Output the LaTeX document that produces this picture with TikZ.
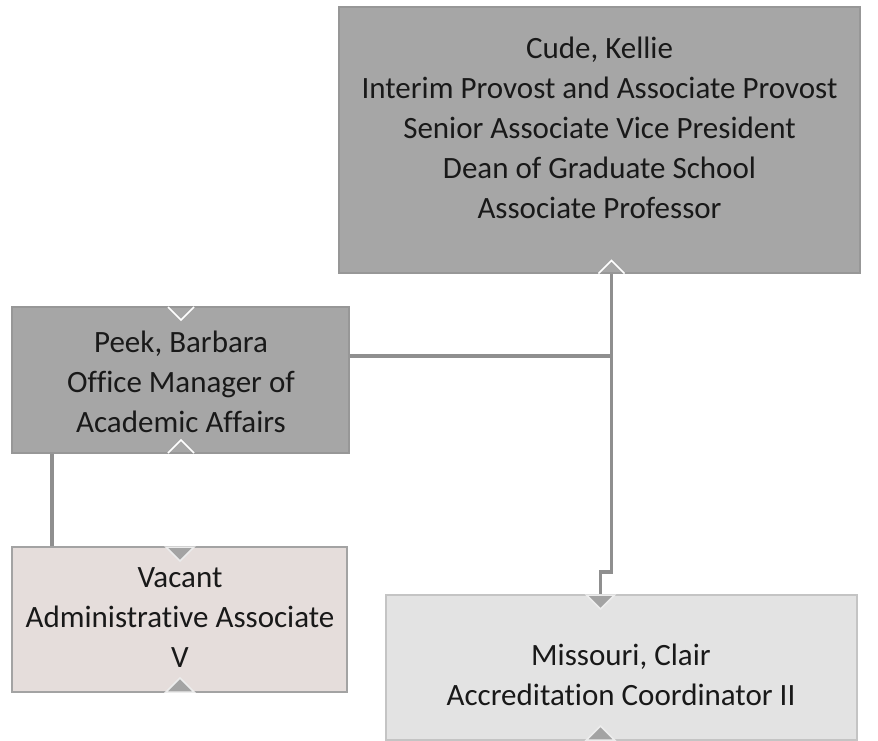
\documentclass[tikz,border=0pt]{standalone}
\usepackage{fontspec}
\setmainfont{Carlito}[Ligatures=NoCommon]
\definecolor{boxdark}{HTML}{A6A6A6}
\definecolor{edgedark}{HTML}{979797}
\definecolor{boxpink}{HTML}{E5DDDB}
\definecolor{boxlight}{HTML}{E3E3E3}
\definecolor{edgelight}{HTML}{C4C4C4}
\definecolor{linkgray}{HTML}{8F8F8F}
\definecolor{tabgray}{HTML}{A3A3A3}
\tikzset{
  box/.style={draw=edgedark, line width=1.2pt, inner sep=0pt},
  txt/.style={align=center, text=black!90, font=\fontsize{31}{40}\selectfont},
  link/.style={draw=linkgray, line width=3.5pt},
  openup/.pic={\draw[white, line width=1.6pt] (-13,0)--(0,-13)--(13,0);},
  opendown/.pic={\draw[white, line width=1.6pt] (-13,0)--(0,13)--(13,0);},
  tabup/.pic={\draw[white!85!gray, line width=1.5pt, fill=tabgray] (-14,0)--(0,-14)--(14,0)--cycle;},
  tabdown/.pic={\draw[white!85!gray, line width=1.5pt, fill=tabgray] (-14,0)--(0,14)--(14,0)--cycle;}
}
\begin{document}
\begin{tikzpicture}[x=1pt, y=-1pt]
\useasboundingbox (0,0) rectangle (878,741);
\node[box, fill=boxdark, minimum width=521pt, minimum height=266pt] (cude) at (599.5,140) {};
\node[box, fill=boxdark, minimum width=337pt, minimum height=146pt] (peek) at (180.5,380) {};
\node[box, fill=boxpink, draw=tabgray, minimum width=335pt, minimum height=145pt] (vacant) at (179.5,619.5) {};
\node[box, fill=boxlight, draw=edgelight, minimum width=471pt, minimum height=145pt] (missouri) at (621.5,667.5) {};
\node[txt] (cudetxt) at (599.5,128) {Cude, Kellie\\Interim Provost and Associate Provost\\Senior Associate Vice President\\Dean of Graduate School\\Associate Professor};
\node[txt] (peektxt) at (181,382) {Peek, Barbara\\Office Manager of\\Academic Affairs};
\node[txt] (vacanttxt) at (180,618) {Vacant\\Administrative Associate\\V};
\node[txt] (missouritxt) at (621,675) {Missouri, Clair\\Accreditation Coordinator II};
% connectors
\coordinate (trunk) at (611.5,0);
\coordinate (jog) at (600.5,572);
\coordinate (peekdrop) at (52,0);
\draw[link] (trunk |- cude.south) -- (trunk |- jog) -- (jog) -- (jog |- missouri.north);
\draw[link] (peek.east |- 0,356) -- (trunk |- 0,356);
\draw[link] (peekdrop |- peek.south) -- (peekdrop |- vacant.north);
% expand tabs
\pic at (trunk |- cude.south) {openup};
\pic at (181,307) {opendown};
\pic at (181,453) {openup};
\pic at (180,547) {tabdown};
\pic at (180,692) {tabup};
\pic at (600.5,595) {tabdown};
\pic at (600.5,740) {tabup};
\end{tikzpicture}
\end{document}
